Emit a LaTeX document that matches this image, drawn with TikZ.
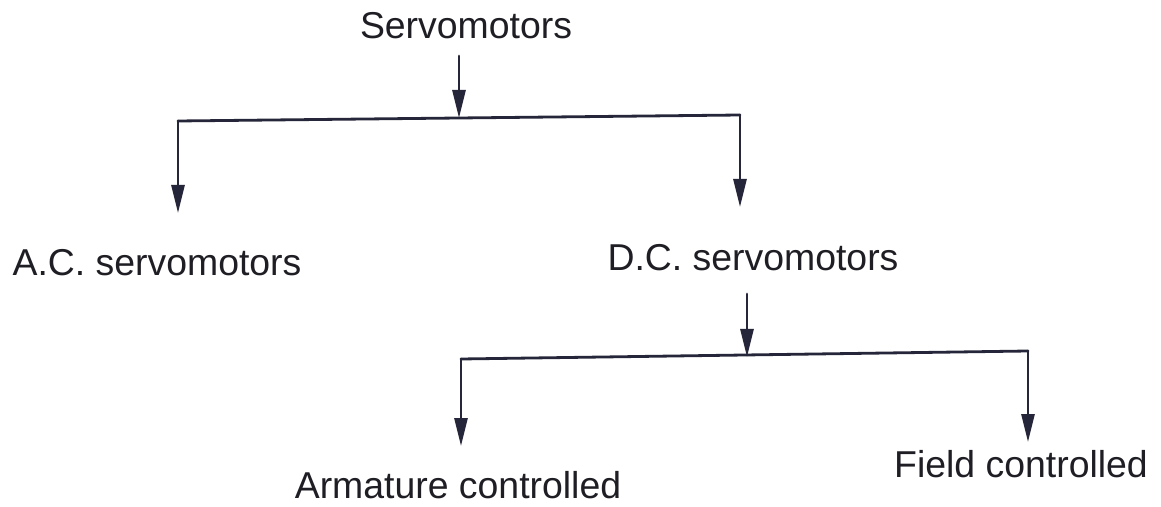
\documentclass[tikz,border=0pt]{standalone}
\usepackage{fontspec}
\setmainfont{Liberation Sans}
\usetikzlibrary{arrows.meta}
\definecolor{ink}{RGB}{30,30,36}
\definecolor{arrowink}{RGB}{38,38,58}
\begin{document}
\begin{tikzpicture}[x=0.5pt,y=-0.5pt,
  lbl/.style={inner sep=0pt,anchor=base,text=ink,font=\fontsize{18.7pt}{22pt}\selectfont},
  bar/.style={draw=arrowink,line width=1.4pt,line cap=round},
  arr/.style={bar,-{Triangle[length=14pt,width=6.5pt]}}]
\fill[white] (0,0) rectangle (1161,507);
\useasboundingbox (0,0) rectangle (1161,507);
% labels
\node[lbl] (servo) at (466,39) {Servomotors};
\node[lbl] (ac) at (157,276) {A.C. servomotors};
\node[lbl] (dc) at (753,271) {D.C. servomotors};
\node[lbl] (arm) at (458,498) {Armature controlled};
\node[lbl] (field) at (1021,477) {Field controlled};
% first level
\coordinate (s1) at (459,56);
\coordinate (j1) at (459,118);
\coordinate (j1l) at (178,121);
\coordinate (j1r) at (740,115);
\coordinate (tac) at (178,213);
\coordinate (tdc) at (740,207);
\draw[bar] (j1l) -- (j1r);
\draw[arr] (s1) -- (j1);
\draw[arr] (j1l) -- (tac);
\draw[arr] (j1r) -- (tdc);
% second level
\coordinate (s2) at (747,294);
\coordinate (j2) at (747,357);
\coordinate (j2l) at (461,359);
\coordinate (j2r) at (1028,351);
\coordinate (tarm) at (461,446);
\coordinate (tfield) at (1028,442);
\draw[bar] (j2l) -- (j2r);
\draw[arr] (s2) -- (j2);
\draw[arr] (j2l) -- (tarm);
\draw[arr] (j2r) -- (tfield);
\end{tikzpicture}
\end{document}
